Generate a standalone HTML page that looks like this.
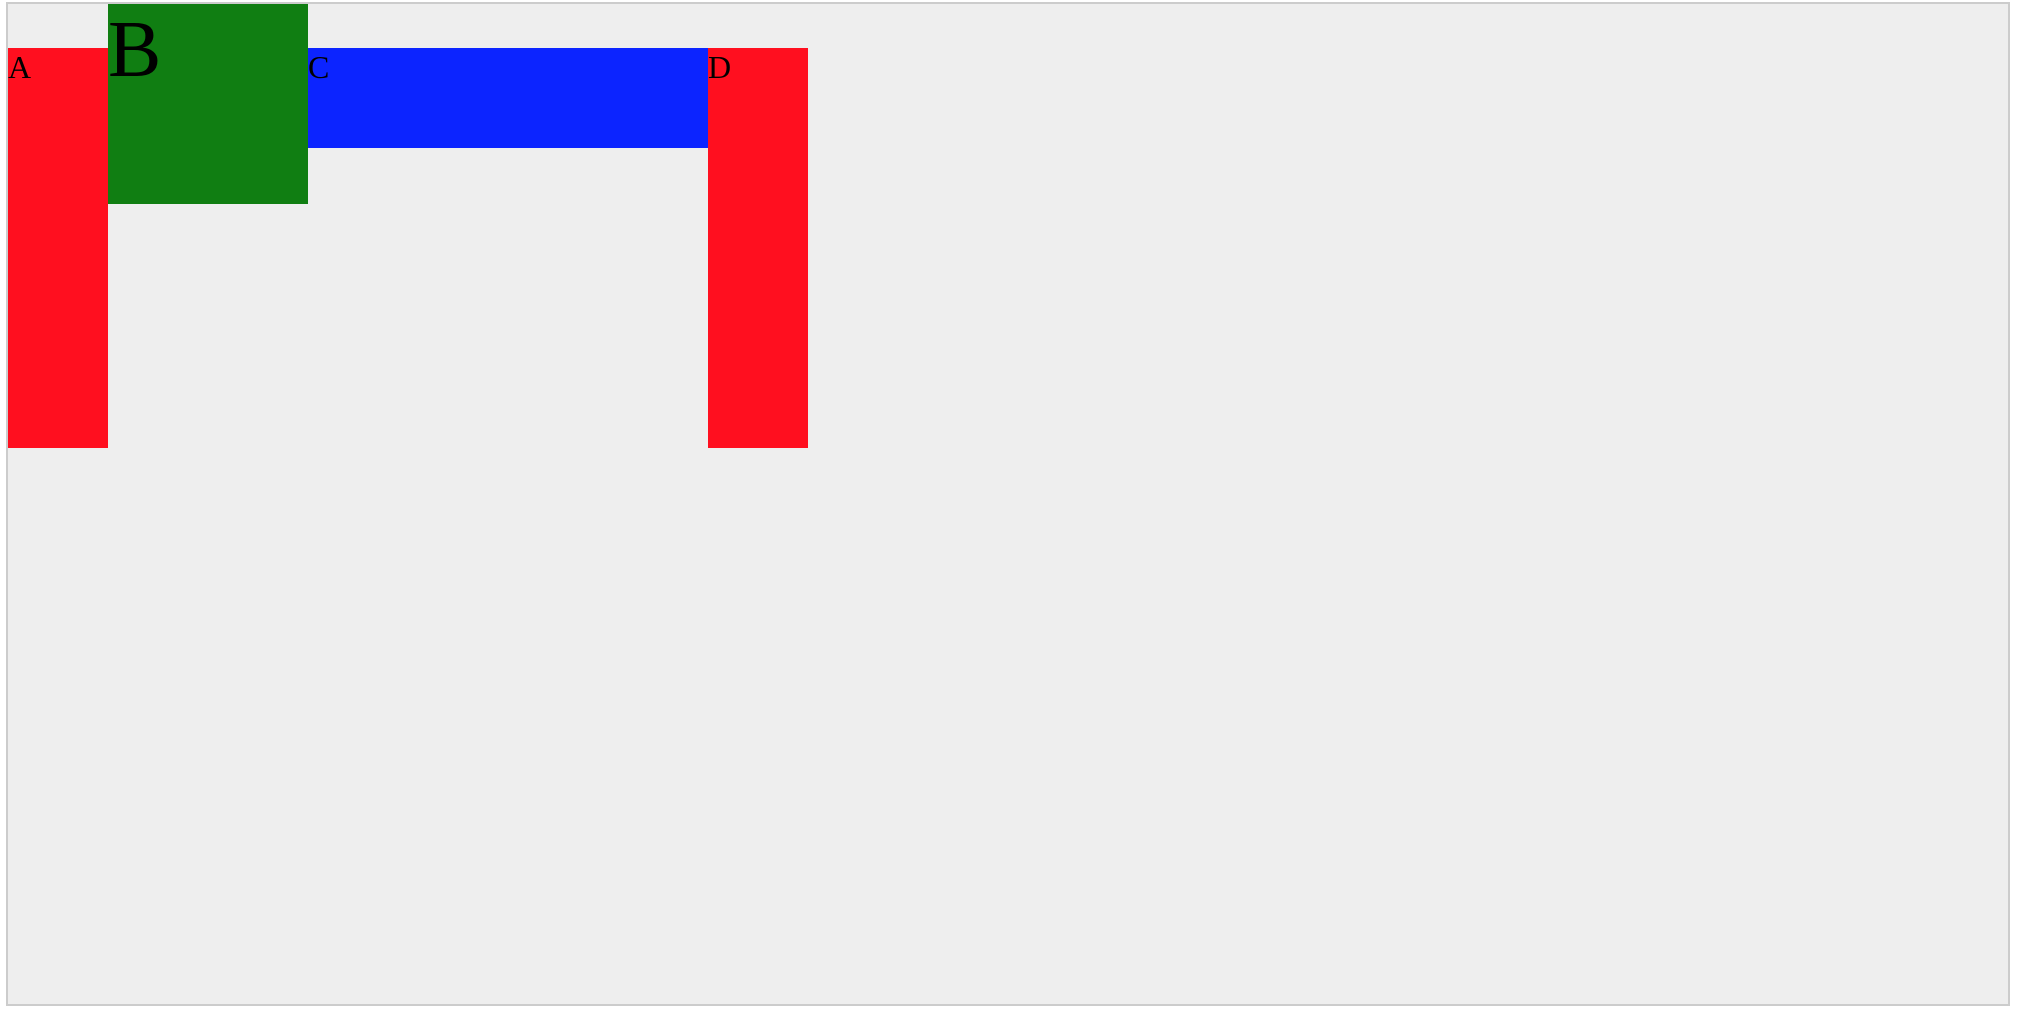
<!DOCTYPE html>
<html><head><meta charset="utf-8"><style>
body{margin:0;width:2020px;height:1014px;background:#fff;overflow:hidden;font-family:"Liberation Serif",serif;}
#box{position:absolute;left:6px;top:2px;width:2000px;height:1000px;border:2px solid #ccc;background:#eee;}
.b{position:absolute;line-height:1;color:#000;box-sizing:border-box;}
</style></head><body>
<div id="box">
<div class="b" style="left:0;top:44px;width:100px;height:400px;background:#ff0f1f;font-size:32px;padding-top:3px;">A</div>
<div class="b" style="left:100px;top:0;width:200px;height:200px;background:#107e12;font-size:80px;padding-top:6px;">B</div>
<div class="b" style="left:300px;top:44px;width:400px;height:100px;background:#0c24ff;font-size:32px;padding-top:3px;">C</div>
<div class="b" style="left:700px;top:44px;width:100px;height:400px;background:#ff0f1f;font-size:32px;padding-top:3px;">D</div>
</div>
</body></html>
